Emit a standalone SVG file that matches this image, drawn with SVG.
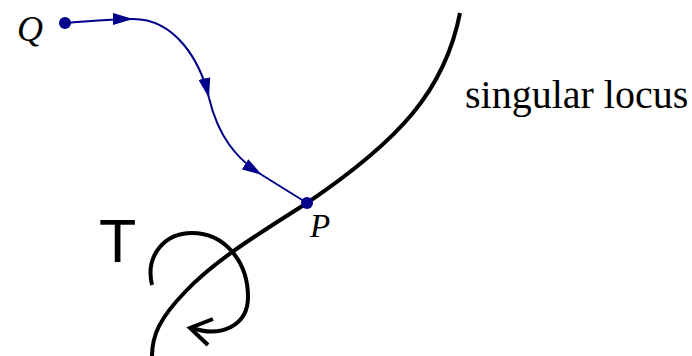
<svg xmlns="http://www.w3.org/2000/svg" width="692" height="356" viewBox="0 0 692 356">
  <style>
    .locus { fill: none; stroke: #000; stroke-width: 4; stroke-linecap: butt; }
    .flow { fill: none; stroke: #00008a; stroke-width: 2; }
    .dot { fill: #00008a; }
    .serif { font-family: "Liberation Serif", "Times New Roman", serif; fill: #000; }
    .it { font-style: italic; }
    .sans { font-family: "Liberation Sans", Arial, sans-serif; fill: #000; }
  </style>
  <defs>
    <marker id="tri" markerUnits="userSpaceOnUse" markerWidth="20" markerHeight="12" refX="20" refY="6" orient="auto" viewBox="0 0 20 12">
      <path d="M0,0 L20,6 L0,12 Z" fill="#00008a"/>
    </marker>
  </defs>
  <rect width="692" height="356" fill="#fff"/>

  <g id="singular-locus">
    <path class="locus" d="M460,13 C445,90 400,140 307,203 C260,233 215,260 185,292 C160,318 152,335 152,356"/>
    <text class="serif" x="465" y="108" font-size="40">singular locus</text>
  </g>

  <g id="connectors">
    <path class="flow" d="M65,23 C90,21 115,19 133,19" marker-end="url(#tri)"/>
    <path class="flow" d="M133,19 C175,19 200,60 209,98" marker-end="url(#tri)"/>
    <path class="flow" d="M209,98 C218,135 235,158 262,175" marker-end="url(#tri)"/>
    <path class="flow" d="M262,175 L307,203"/>
  </g>

  <g id="node-Q">
    <circle class="dot" cx="65" cy="23" r="6"/>
    <text class="serif it" x="17" y="41" font-size="36">Q</text>
  </g>

  <g id="node-P">
    <circle class="dot" cx="307" cy="203" r="6"/>
    <text class="serif it" x="310" y="237" font-size="33">P</text>
  </g>

  <g id="node-T">
    <path class="locus" d="M152,285 C145,255 165,233 192,233 C225,233 248,262 248,297 C248,325 222,338 192,328"/>
    <path class="locus" d="M213,319 L190,328 L208,345"/>
    <text class="sans" x="99" y="262" font-size="61">T</text>
  </g>
</svg>
